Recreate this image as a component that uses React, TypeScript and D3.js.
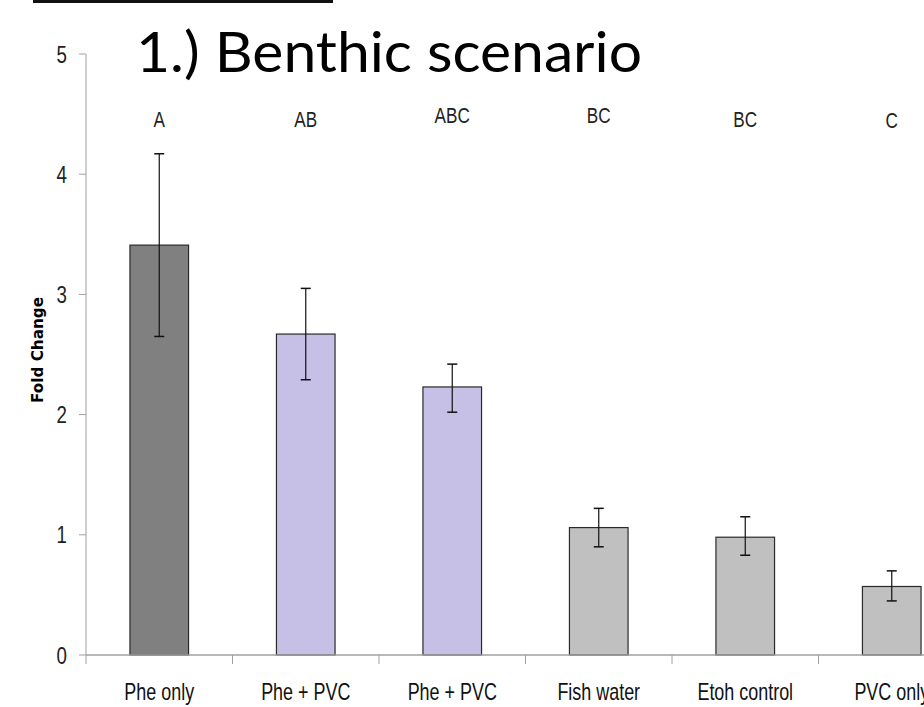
import React from "react";
import * as d3 from "d3";

const categories = ["Phe only", "Phe + PVC", "Phe + PVC", "Fish water", "Etoh control", "PVC only"];
const foldChange = [3.41, 2.67, 2.23, 1.06, 0.98, 0.57];
const errUpper = [4.17, 3.05, 2.42, 1.22, 1.15, 0.7];
const errLower = [2.65, 2.29, 2.02, 0.9, 0.83, 0.45];
const groupLetters = ["A", "AB", "ABC", "BC", "BC", "C"];
const letterOffsets = [0, 0, -4, -4, 0, 1];
const barColors = ["#808080", "#c6bfe6", "#c6bfe6", "#c0c0c0", "#c0c0c0", "#c0c0c0"];
const yTicks = [0, 1, 2, 3, 4, 5];
const title = "1.) Benthic scenario";
const yLabel = "Fold Change";

const W = 924;
const H = 707;
const narrowFont = "'Liberation Sans', Arial, sans-serif";

function NarrowText(props: {
  x: number;
  y: number;
  size: number;
  anchor?: "start" | "middle" | "end";
  fill?: string;
  dy?: string;
  children: React.ReactNode;
}) {
  const { x, y, size, anchor = "middle", fill = "#222", dy, children } = props;
  return (
    <text
      transform={`translate(${x},${y}) scale(0.78,1)`}
      dy={dy}
      textAnchor={anchor}
      fontFamily={narrowFont}
      fontSize={size}
      fill={fill}
    >
      {children}
    </text>
  );
}

export default function App() {
  const x0 = 86;
  const bandW = 146.5;
  const x = d3
    .scaleBand<number>()
    .domain(d3.range(categories.length))
    .range([x0, x0 + bandW * categories.length])
    .paddingInner(0)
    .paddingOuter(0);
  const y = d3.scaleLinear().domain([0, 5]).range([655, 54]);
  const barW = x.bandwidth() * 0.4;
  const capW = 10;

  return (
    <svg
      width={W}
      height={H}
      viewBox={`0 0 ${W} ${H}`}
      style={{ position: "absolute", left: 0, top: 0, background: "#fff" }}
    >
      <rect x={0} y={0} width={W} height={H} fill="#fff" />
      <line x1={33} x2={333} y1={1.5} y2={1.5} stroke="#111" strokeWidth={3} />
      <text
        x={136}
        y={72}
        fontFamily="Lato, 'Open Sans', sans-serif"
        fontSize={57}
        textLength={506}
        lengthAdjust="spacingAndGlyphs"
        fill="#000"
      >
        {title}
      </text>

      {/* y axis */}
      <line x1={x0} x2={x0} y1={y(5)} y2={y(0)} stroke="#a0a0a0" strokeWidth={1} />
      {yTicks.map((t) => (
        <g key={t}>
          <line x1={79} x2={x0} y1={y(t)} y2={y(t)} stroke="#a0a0a0" strokeWidth={1} />
          <NarrowText x={67} y={y(t)} dy="0.36em" anchor="end" size={24}>
            {t}
          </NarrowText>
        </g>
      ))}
      <text
        transform={`translate(43, 350) rotate(-90)`}
        textAnchor="middle"
        fontFamily="'DejaVu Sans', Verdana, sans-serif"
        fontWeight="bold"
        fontSize={15}
        textLength={106}
        lengthAdjust="spacingAndGlyphs"
        fill="#000"
      >
        {yLabel}
      </text>

      {/* bars */}
      {categories.map((c, i) => {
        const cx = (x(i) as number) + x.bandwidth() / 2;
        return (
          <g key={i}>
            <rect
              x={cx - barW / 2}
              y={y(foldChange[i])}
              width={barW}
              height={y(0) - y(foldChange[i])}
              fill={barColors[i]}
              stroke="#2a2a2a"
              strokeWidth={1.2}
            />
            <line x1={cx} x2={cx} y1={y(errUpper[i])} y2={y(errLower[i])} stroke="#111" strokeWidth={1.2} />
            <line x1={cx - capW / 2} x2={cx + capW / 2} y1={y(errUpper[i])} y2={y(errUpper[i])} stroke="#111" strokeWidth={1.5} />
            <line x1={cx - capW / 2} x2={cx + capW / 2} y1={y(errLower[i])} y2={y(errLower[i])} stroke="#111" strokeWidth={1.5} />
            <NarrowText x={cx} y={127 + letterOffsets[i]} size={22}>
              {groupLetters[i]}
            </NarrowText>
            <NarrowText x={cx} y={700} size={23} fill="#111">
              {c}
            </NarrowText>
          </g>
        );
      })}

      {/* x axis */}
      <line x1={x0} x2={x0 + bandW * categories.length} y1={y(0)} y2={y(0)} stroke="#a0a0a0" strokeWidth={1.5} />
      {d3.range(categories.length + 1).map((k) => (
        <line
          key={k}
          x1={x0 + bandW * k}
          x2={x0 + bandW * k}
          y1={y(0)}
          y2={y(0) + 9}
          stroke="#a0a0a0"
          strokeWidth={1}
        />
      ))}
    </svg>
  );
}
